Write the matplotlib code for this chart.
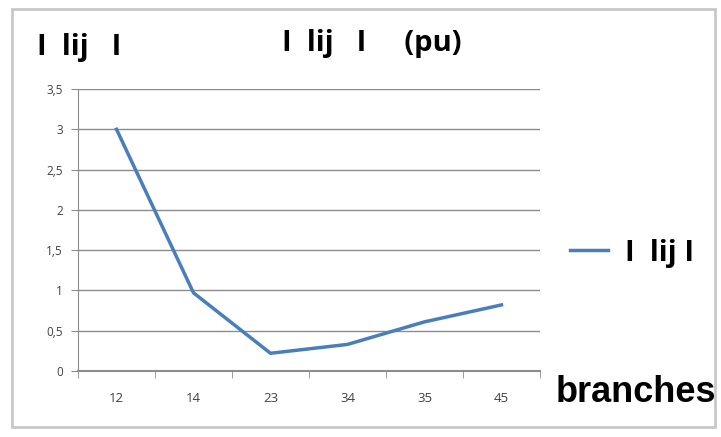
import matplotlib.pyplot as plt
from matplotlib.patches import Rectangle
from matplotlib.ticker import FuncFormatter

branches = ['12', '14', '23', '34', '35', '45']
iij = [3.0, 0.97, 0.22, 0.33, 0.61, 0.82]
yticks = [0, 0.5, 1, 1.5, 2, 2.5, 3, 3.5]

grid_col = '#8c8c8c'
line_col = '#4a7ebb'
head_font = 'Open Sans'

fig = plt.figure(figsize=(7.21, 4.37), dpi=100)
fig.patch.set_facecolor('white')

# outer frame like the spreadsheet chart area
fig.patches.append(Rectangle((12 / 721, 10 / 437), 703 / 721, 418 / 437,
                             transform=fig.transFigure, fill=False,
                             edgecolor='#c8c8c8', linewidth=2))

ax = fig.add_axes([78 / 721, 66 / 437, 462 / 721, 282 / 437])
x = range(len(branches))
ax.plot(x, iij, color=line_col, linewidth=2.5, label='I  lij I')

ax.set_xlim(-0.5, len(branches) - 0.5)
ax.set_ylim(0, 3.5)
ax.set_yticks(yticks)
ax.yaxis.set_major_formatter(FuncFormatter(lambda v, p: ('%g' % v).replace('.', ',')))
ax.set_xticks(list(x))
ax.set_xticklabels(branches)
ax.set_xticks([i - 0.5 for i in range(len(branches) + 1)], minor=True)

ax.grid(axis='y', color=grid_col, linewidth=1)
ax.set_axisbelow(True)
for s in ['top', 'right']:
    ax.spines[s].set_visible(False)
ax.spines['left'].set_color(grid_col)
ax.spines['bottom'].set_color(grid_col)
ax.spines['bottom'].set_linewidth(1.5)

ax.tick_params(axis='y', length=5, color=grid_col, labelsize=8.5, labelcolor='#404040', pad=6)
ax.tick_params(axis='x', which='major', length=0, labelsize=9.5, labelcolor='#404040', pad=15)
ax.tick_params(axis='x', which='minor', length=5, color=grid_col)
for t in ax.get_xticklabels() + ax.get_yticklabels():
    t.set_family(head_font)

fig.text(372 / 721, 1 - 43 / 437, 'I  lij   I     (pu)', ha='center', va='center',
         fontsize=21, fontweight='bold', family=head_font)
fig.text(37 / 721, 1 - 47 / 437, 'I  lij   I', ha='left', va='center',
         fontsize=21, fontweight='bold', family=head_font)
fig.text(556 / 721, 1 - 393 / 437, 'branches', ha='left', va='center',
         fontsize=26, fontweight='bold', family='Liberation Sans')

leg = ax.legend(loc='center left', bbox_to_anchor=(570 / 721, 1 - 253 / 437),
                bbox_transform=fig.transFigure, frameon=False, handlelength=1.3,
                handletextpad=0.6, borderpad=0, borderaxespad=0,
                prop={'family': head_font, 'weight': 'bold', 'size': 21})

fig.savefig('out.png', dpi=100)
